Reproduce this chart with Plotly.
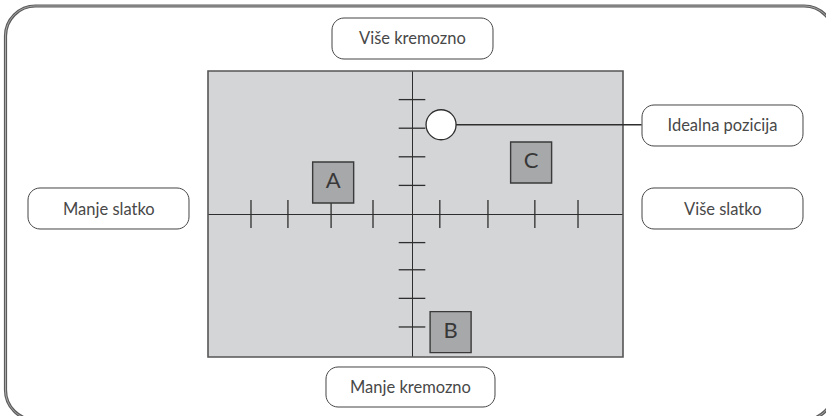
import plotly.graph_objects as go

# product map data (axis units, origin where the two axes cross)
products = ["A", "B", "C"]
sweet = [-1.90, 0.93, 2.87]        # x: manje slatko -> više slatko
creamy = [1.10, -4.13, 1.80]       # y: manje kremozno -> više kremozno
ideal_x = 0.70
ideal_y = 3.12
ideal_label = "Idealna pozicija"

x_ticks = [-3.88, -2.99, -1.95, -0.94, 0.67, 1.83, 2.96, 4.0]
y_ticks = [4.0, 3.0, 2.0, 1.0, -1.0, -1.95, -2.95, -3.95]

axis_labels = {
    "Više kremozno": (332, 18, 493, 59),
    "Manje kremozno": (326, 367, 495, 407),
    "Manje slatko": (28, 188, 189, 229),
    "Više slatko": (642, 188, 803, 229),
}
ideal_box = (642, 105, 803, 146)

W, H = 826, 416
FONT = "Lato"
INK = "#484848"


def px(x, y):
    return x / W, 1 - y / H


def rounded_path(x0, y0, x1, y1, r):
    k = 0.5523 * r

    def p(x, y):
        a, b = px(x, y)
        return f"{a:.5f},{b:.5f}"

    return (
        f"M {p(x0 + r, y0)} L {p(x1 - r, y0)} "
        f"C {p(x1 - r + k, y0)} {p(x1, y0 + r - k)} {p(x1, y0 + r)} "
        f"L {p(x1, y1 - r)} "
        f"C {p(x1, y1 - r + k)} {p(x1 - r + k, y1)} {p(x1 - r, y1)} "
        f"L {p(x0 + r, y1)} "
        f"C {p(x0 + r - k, y1)} {p(x0, y1 - r + k)} {p(x0, y1 - r)} "
        f"L {p(x0, y0 + r)} "
        f"C {p(x0, y0 + r - k)} {p(x0 + r - k, y0)} {p(x0 + r, y0)} Z"
    )


fig = go.Figure()

# tick marks crossing the axes
fig.add_trace(go.Scatter(
    x=x_ticks, y=[0] * len(x_ticks), mode="markers",
    marker=dict(symbol="line-ns", size=20, line=dict(color="#2e2e2e", width=1.3)),
    hoverinfo="skip",
))
fig.add_trace(go.Scatter(
    x=[0] * len(y_ticks), y=y_ticks, mode="markers",
    marker=dict(symbol="line-ew", size=19, line=dict(color="#2e2e2e", width=1.3)),
    hoverinfo="skip",
))

# products
fig.add_trace(go.Scatter(
    x=sweet, y=creamy, mode="markers+text", text=products,
    textposition="middle center",
    textfont=dict(family=FONT, size=22, color="#383838"),
    marker=dict(symbol="square", size=41, color="#a7a8aa",
                line=dict(color="#3a3a3a", width=1.4)),
    cliponaxis=False, hoverinfo="skip",
))

# ideal point
fig.add_trace(go.Scatter(
    x=[ideal_x], y=[ideal_y], mode="markers",
    marker=dict(symbol="circle", size=30, color="white",
                line=dict(color="#2e2e2e", width=1.3)),
    cliponaxis=False, hoverinfo="skip",
))

shapes = [
    dict(type="rect", xref="x domain", yref="y domain", x0=0, y0=0, x1=1, y1=1,
         line=dict(color="#555555", width=1.6), layer="above"),
    dict(type="path", xref="paper", yref="paper",
         path=rounded_path(5.5, 6, 834, 420, 30),
         line=dict(color="#5c5c5c", width=3.2)),
    dict(type="path", xref="paper", yref="paper",
         path=rounded_path(5.5, 6, 834, 420, 30),
         line=dict(color="#b0b0b0", width=0.9)),
]
annotations = []
for label, box in list(axis_labels.items()):
    shapes.append(dict(type="path", xref="paper", yref="paper",
                       path=rounded_path(*box, 12), fillcolor="white",
                       line=dict(color="#444444", width=1)))
    cx, cy = px((box[0] + box[2]) / 2, (box[1] + box[3]) / 2)
    annotations.append(dict(x=cx, y=cy, xref="paper", yref="paper", text=label,
                            showarrow=False, xanchor="center", yanchor="middle",
                            font=dict(family=FONT, size=16.5, color=INK)))

shapes.append(dict(type="path", xref="paper", yref="paper",
                   path=rounded_path(*ideal_box, 12), fillcolor="white",
                   line=dict(color="#444444", width=1)))
annotations.append(dict(
    x=ideal_x, y=ideal_y, xref="x", yref="y", text=ideal_label,
    showarrow=True, arrowhead=0, arrowwidth=1.3, arrowcolor="#2e2e2e",
    ax=(ideal_box[0] + ideal_box[2]) / 2 - 441, ay=0,
    width=ideal_box[2] - ideal_box[0], height=ideal_box[3] - ideal_box[1],
    borderpad=0, standoff=15,
    font=dict(family=FONT, size=16.5, color=INK),
))

fig.update_layout(
    width=W, height=H,
    margin=dict(l=0, r=0, t=0, b=0),
    paper_bgcolor="white",
    plot_bgcolor="#d4d5d7",
    showlegend=False,
    shapes=shapes,
    annotations=annotations,
    xaxis=dict(domain=[208 / W, 623 / W], range=[-4.916, 5.084],
               showgrid=False, showticklabels=False, ticks="",
               zeroline=True, zerolinecolor="#2e2e2e", zerolinewidth=1.3,
               fixedrange=True),
    yaxis=dict(domain=[(H - 357) / H, (H - 71) / H], range=[-5, 5],
               showgrid=False, showticklabels=False, ticks="",
               zeroline=True, zerolinecolor="#2e2e2e", zerolinewidth=1.3,
               fixedrange=True),
)

fig.write_html("out.html", config={"displayModeBar": False},
               post_script="document.body.style.margin = '0';")
